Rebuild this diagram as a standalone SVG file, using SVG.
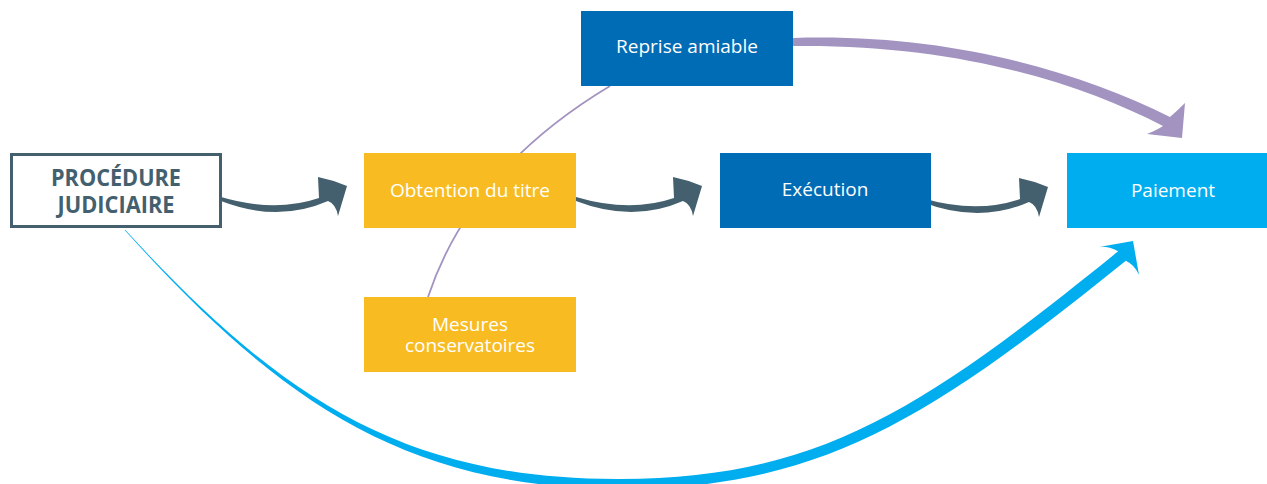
<svg xmlns="http://www.w3.org/2000/svg" xmlns:xlink="http://www.w3.org/1999/xlink" width="1267" height="484" viewBox="0 0 1267 484">
<style>
.lbl{font-family:"Open Sans","Liberation Sans",sans-serif;font-size:19px;fill:#ffffff;text-anchor:middle}
.title{font-family:"Open Sans","Liberation Sans",sans-serif;font-size:23px;font-weight:bold;fill:#44606e;text-anchor:middle}
.yellow{fill:#f8bc22}
.dblue{fill:#006cb5}
.lblue{fill:#00aeef}
.dark{fill:#44606e}
</style>
<defs>
<path id="darrow" d="M221,197 Q275,213 319,198 L318,177 Q333,180 347,186 L338,216 Q336,204 328,201 Q278,223 221,201 Z"/>
</defs>
<g id="connectors">
<path d="M428,297 Q470,170 610,86" fill="none" stroke="#a393c1" stroke-width="1.8"/>
<path d="M125.2,229.8 C276.1,394 400,480 620,479 C820,478.5 923.2,408.8 1118.2,251.3 Q1108,246 1099,247 L1133,241 L1139,275 Q1135,265 1125.8,260.7 C930.8,418.2 820,489.5 620,489 C400,488 273.9,396 124.8,230.2 Z" fill="#00aeef"/>
<path d="M793,38 C950,33 1080,72 1170,117 Q1178,110 1185,103 L1182,138 L1147,134 Q1157,130 1163,126 C1075,80 950,44 793,46 Z" fill="#a393c1"/>
<use xlink:href="#darrow" class="dark"/>
<use xlink:href="#darrow" class="dark" transform="translate(355,0)"/>
<use xlink:href="#darrow" class="dark" transform="translate(701,1)"/>
</g>
<g id="node-procedure">
<rect x="11.5" y="154.5" width="209" height="72" fill="#ffffff" stroke="#44606e" stroke-width="3"/>
<text class="title" x="116" y="186" textLength="130" lengthAdjust="spacingAndGlyphs">PROCÉDURE</text>
<text class="title" x="116" y="213" textLength="117" lengthAdjust="spacingAndGlyphs">JUDICIAIRE</text>
</g>
<g id="node-obtention">
<rect class="yellow" x="364" y="153" width="212" height="75"/>
<text class="lbl" x="470" y="197">Obtention du titre</text>
</g>
<g id="node-mesures">
<rect class="yellow" x="364" y="297" width="212" height="75"/>
<text class="lbl" x="470" y="331">Mesures</text>
<text class="lbl" x="470" y="352">conservatoires</text>
</g>
<g id="node-reprise">
<rect class="dblue" x="581" y="11" width="212" height="75"/>
<text class="lbl" x="687" y="53">Reprise amiable</text>
</g>
<g id="node-execution">
<rect class="dblue" x="720" y="153" width="211" height="75"/>
<text class="lbl" x="825" y="196">Exécution</text>
</g>
<g id="node-paiement">
<rect class="lblue" x="1067" y="153" width="200" height="75"/>
<text class="lbl" x="1173" y="197">Paiement</text>
</g>
</svg>
